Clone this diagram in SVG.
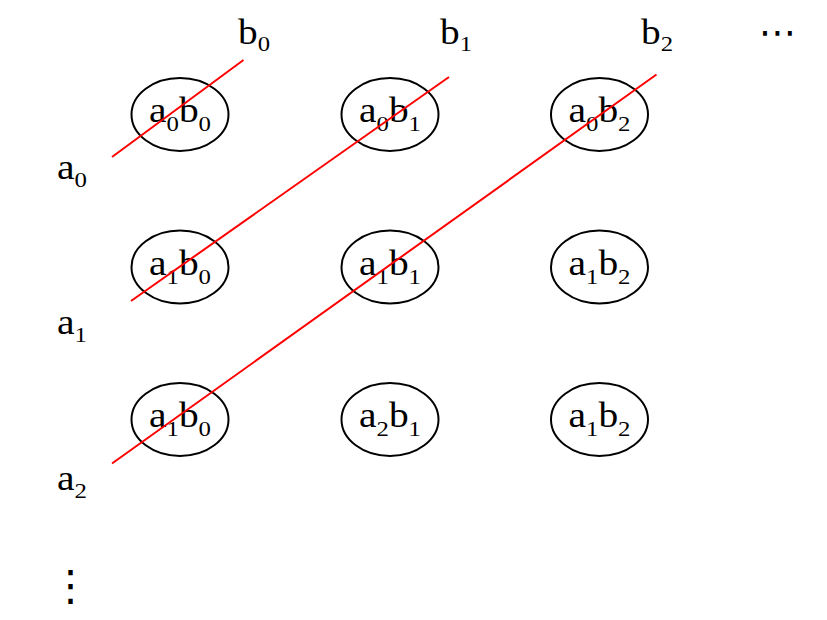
<svg xmlns="http://www.w3.org/2000/svg" width="827" height="620" viewBox="0 0 827 620">
<style>
.t{font-family:"Liberation Serif","Times New Roman",serif;font-size:35px;fill:#000}
.s{font-size:22px}
.n ellipse{fill:none;stroke:#000;stroke-width:2}
.c line{stroke:#ff0000;stroke-width:2}
.d{font-family:"DejaVu Sans",sans-serif;fill:#000}
</style>
<rect width="827" height="620" fill="#fff"/>
<g id="col-labels">
<text class="t" x="238" y="44" textLength="32" lengthAdjust="spacingAndGlyphs">b<tspan class="s" dy="7">0</tspan></text>
<text class="t" x="440" y="44" textLength="32" lengthAdjust="spacingAndGlyphs">b<tspan class="s" dy="7">1</tspan></text>
<text class="t" x="641" y="44" textLength="32" lengthAdjust="spacingAndGlyphs">b<tspan class="s" dy="7">2</tspan></text>
<text class="d" x="759" y="45" font-size="38" textLength="37" lengthAdjust="spacingAndGlyphs">⋯</text>
</g>
<g id="row-labels">
<text class="t" x="57" y="179" textLength="30" lengthAdjust="spacingAndGlyphs">a<tspan class="s" dy="8">0</tspan></text>
<text class="t" x="57" y="334" textLength="30" lengthAdjust="spacingAndGlyphs">a<tspan class="s" dy="8">1</tspan></text>
<text class="t" x="57" y="489.5" textLength="30" lengthAdjust="spacingAndGlyphs">a<tspan class="s" dy="8">2</tspan></text>
<text class="d" x="49.5" y="599.5" font-size="42">⋮</text>
</g>
<g id="n00" class="n"><ellipse cx="180" cy="114.5" rx="48.5" ry="36.5"/><text class="t" x="149" y="122" textLength="62" lengthAdjust="spacingAndGlyphs">a<tspan class="s" dy="9">0</tspan><tspan dy="-9">b</tspan><tspan class="s" dy="9">0</tspan></text></g>
<g id="n01" class="n"><ellipse cx="390" cy="114.5" rx="48.5" ry="36.5"/><text class="t" x="359" y="122" textLength="62" lengthAdjust="spacingAndGlyphs">a<tspan class="s" dy="9">0</tspan><tspan dy="-9">b</tspan><tspan class="s" dy="9">1</tspan></text></g>
<g id="n02" class="n"><ellipse cx="599.5" cy="114.5" rx="48.5" ry="36.5"/><text class="t" x="568.5" y="122" textLength="62" lengthAdjust="spacingAndGlyphs">a<tspan class="s" dy="9">0</tspan><tspan dy="-9">b</tspan><tspan class="s" dy="9">2</tspan></text></g>
<g id="n10" class="n"><ellipse cx="180" cy="267" rx="48.5" ry="36.5"/><text class="t" x="149" y="274.5" textLength="62" lengthAdjust="spacingAndGlyphs">a<tspan class="s" dy="9">1</tspan><tspan dy="-9">b</tspan><tspan class="s" dy="9">0</tspan></text></g>
<g id="n11" class="n"><ellipse cx="390" cy="267" rx="48.5" ry="36.5"/><text class="t" x="359" y="274.5" textLength="62" lengthAdjust="spacingAndGlyphs">a<tspan class="s" dy="9">1</tspan><tspan dy="-9">b</tspan><tspan class="s" dy="9">1</tspan></text></g>
<g id="n12" class="n"><ellipse cx="599.5" cy="267" rx="48.5" ry="36.5"/><text class="t" x="568.5" y="274.5" textLength="62" lengthAdjust="spacingAndGlyphs">a<tspan class="s" dy="9">1</tspan><tspan dy="-9">b</tspan><tspan class="s" dy="9">2</tspan></text></g>
<g id="n20" class="n"><ellipse cx="180" cy="419.5" rx="48.5" ry="36.5"/><text class="t" x="149" y="427" textLength="62" lengthAdjust="spacingAndGlyphs">a<tspan class="s" dy="9">1</tspan><tspan dy="-9">b</tspan><tspan class="s" dy="9">0</tspan></text></g>
<g id="n21" class="n"><ellipse cx="390" cy="419.5" rx="48.5" ry="36.5"/><text class="t" x="359" y="427" textLength="62" lengthAdjust="spacingAndGlyphs">a<tspan class="s" dy="9">2</tspan><tspan dy="-9">b</tspan><tspan class="s" dy="9">1</tspan></text></g>
<g id="n22" class="n"><ellipse cx="599.5" cy="419.5" rx="48.5" ry="36.5"/><text class="t" x="568.5" y="427" textLength="62" lengthAdjust="spacingAndGlyphs">a<tspan class="s" dy="9">1</tspan><tspan dy="-9">b</tspan><tspan class="s" dy="9">2</tspan></text></g>
<g id="connectors" class="c">
<line x1="112" y1="157" x2="243.5" y2="60"/>
<line x1="131" y1="301" x2="449" y2="77"/>
<line x1="112" y1="463.5" x2="656.5" y2="74.5"/>
</g>
</svg>
